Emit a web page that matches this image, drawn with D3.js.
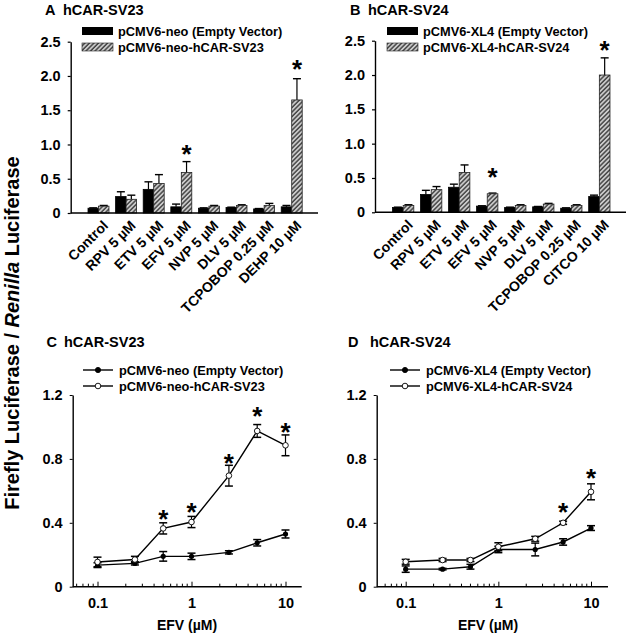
<!DOCTYPE html>
<html><head><meta charset="utf-8">
<script src="https://cdn.jsdelivr.net/npm/d3@7"></script>
<style>
body{margin:0;background:#fff}
svg{display:block}
text{font-family:"Liberation Sans",Arial,sans-serif;font-weight:bold;fill:#000}
</style>
</head><body>
<svg id="chart" width="629" height="634"></svg>
<script>
// ---------- DATA ----------
const categoriesA = ["Control","RPV 5 µM","ETV 5 µM","EFV 5 µM","NVP 5 µM","DLV 5 µM","TCPOBOP 0.25 µM","DEHP 10 µM"];
const emptyA    = [0.07, 0.24, 0.345, 0.09, 0.07, 0.08, 0.06, 0.09];
const emptyErrA = [0.005,0.07, 0.11, 0.04, 0.005,0.005,0.005,0.02];
const carA      = [0.10, 0.20, 0.43, 0.59, 0.10, 0.11, 0.11, 1.65];
const carErrA   = [0.01, 0.06, 0.13, 0.16, 0.01, 0.01, 0.03, 0.31];
const starsA    = [{cat:"EFV 5 µM", level:0.95},{cat:"DEHP 10 µM", level:2.19}];

const categoriesB = ["Control","RPV 5 µM","ETV 5 µM","EFV 5 µM","NVP 5 µM","DLV 5 µM","TCPOBOP 0.25 µM","CITCO 10 µM"];
const emptyB    = [0.07, 0.26, 0.365,0.09, 0.07, 0.08, 0.06, 0.23];
const emptyErrB = [0.005,0.06, 0.045,0.005,0.005,0.005,0.005,0.02];
const carB      = [0.10, 0.33, 0.58, 0.27, 0.10, 0.12, 0.10, 2.00];
const carErrB   = [0.01, 0.045,0.11, 0.01, 0.01, 0.01, 0.01, 0.25];
const starsB    = [{cat:"EFV 5 µM", level:0.594},{cat:"CITCO 10 µM", level:2.45}];

const barTicks = [0, 0.5, 1.0, 1.5, 2.0, 2.5];

const doses = [0.1, 0.25, 0.5, 1, 2.5, 5, 10];
const emptyC    = [0.135,0.146,0.19, 0.19, 0.215,0.275,0.33];
const emptyErrC = [0.015,0.01, 0.03, 0.02, 0.01, 0.02, 0.025];
const carC      = [0.155,0.17, 0.365,0.405,0.695,0.975,0.885];
const carErrC   = [0.03, 0.02, 0.035,0.035,0.065,0.04, 0.065];
const starsC    = [{dose:0.5,level:0.46},{dose:1,level:0.505},{dose:2.5,level:0.81},{dose:5,level:1.104},{dose:10,level:1.006}];

const emptyD    = [0.11, 0.11, 0.125,0.233,0.233,0.28, 0.367];
const emptyErrD = [0.02, 0.005,0.015,0.02, 0.04, 0.02, 0.015];
const carD      = [0.156,0.167,0.167,0.25, 0.30, 0.40, 0.594];
const carErrD   = [0.015,0.01, 0.01, 0.025,0.015,0.01, 0.05];
const starsD    = [{dose:5,level:0.504},{dose:10,level:0.72}];

const lineYTicks = [0, 0.4, 0.8, 1.2];
const lineXTicks = [0.1, 1, 10];
const minorXTicks = [0.06,0.07,0.08,0.09,0.2,0.3,0.4,0.5,0.6,0.7,0.8,0.9,2,3,4,5,6,7,8,9];

// ---------- DRAW ----------
const FONT = "'Liberation Sans',Arial,sans-serif";
const svg = d3.select("#chart");
const defs = svg.append("defs");
const pat = defs.append("pattern").attr("id","hatch").attr("patternUnits","userSpaceOnUse")
  .attr("width",3.2).attr("height",3.2).attr("patternTransform","rotate(45)");
pat.append("rect").attr("width",3.2).attr("height",3.2).attr("fill","#cfcfcf");
pat.append("line").attr("x1",0.9).attr("y1",0).attr("x2",0.9).attr("y2",3.2).attr("stroke","#444").attr("stroke-width",1.5);

const fmt = v => v === 0 ? "0" : d3.format(".1f")(v);

function title(x1, x2, y, letter, name){
  svg.append("text").attr("x",x1).attr("y",y).attr("font-size",14.5).text(letter);
  svg.append("text").attr("x",x2).attr("y",y).attr("font-size",14.5).text(name);
}
function star(x, y){
  svg.append("text").attr("x",x).attr("y",y + 0.57*26).attr("text-anchor","middle")
    .attr("font-size",26).text("*");
}
function styleAxisText(sel, fs){
  sel.selectAll("text").attr("font-size",fs).attr("font-family",FONT).attr("font-weight","bold");
}

function drawBars(c){
  const y = d3.scaleLinear().domain([0,2.5]).range([c.y0, c.yTop]);
  const x = d3.scaleBand().domain(c.cats).range([c.x0+3.5, c.x1-2]).paddingInner(0.24).paddingOuter(0.5);
  const g = svg.append("g");
  const bw = x.bandwidth()/2;
  const rows = c.cats.map((k,i)=>({k, e:c.empty[i], ee:c.emptyErr[i], h:c.car[i], he:c.carErr[i]}));
  function err(xc, v, e){
    const yt = y(v+e);
    g.append("line").attr("x1",xc).attr("x2",xc).attr("y1",y(v)).attr("y2",yt).attr("stroke","#000").attr("stroke-width",1.2);
    g.append("line").attr("x1",xc-4).attr("x2",xc+4).attr("y1",yt).attr("y2",yt).attr("stroke","#000").attr("stroke-width",1.4);
  }
  rows.forEach(r=>{
    err(x(r.k)+bw/2, r.e, r.ee);
    err(x(r.k)+bw*1.5, r.h, r.he);
  });
  g.selectAll(".be").data(rows).join("rect")
    .attr("x",d=>x(d.k)).attr("width",bw).attr("y",d=>y(d.e)).attr("height",d=>y(0)-y(d.e))
    .attr("fill","#000").attr("stroke","#000").attr("stroke-width",0.8);
  g.selectAll(".bh").data(rows).join("rect")
    .attr("x",d=>x(d.k)+bw).attr("width",bw).attr("y",d=>y(d.h)).attr("height",d=>y(0)-y(d.h))
    .attr("fill","url(#hatch)").attr("stroke","#222").attr("stroke-width",0.8);
  const ya = g.append("g").attr("transform",`translate(${c.x0},0)`)
    .call(d3.axisLeft(y).tickValues(barTicks).tickFormat(fmt).tickSize(3).tickPadding(7).tickSizeOuter(0));
  ya.select(".domain").attr("stroke-width",1.4);
  styleAxisText(ya, 14.5);
  ya.selectAll("line").attr("stroke-width",1.2);
  g.append("line").attr("x1",c.x0).attr("x2",c.x1).attr("y1",y(0)).attr("y2",y(0)).attr("stroke","#000").attr("stroke-width",1.4);
  g.selectAll(".cl").data(c.cats).join("text")
    .attr("transform",d=>`translate(${x(d)+x.bandwidth()/2+7},${y(0)+10}) rotate(-45)`)
    .attr("text-anchor","end").attr("dy","0.35em").attr("font-size",14).text(d=>d);
  c.stars.forEach(s=>star(x(s.cat)+bw*1.5, y(s.level)));
  const lg = svg.append("g");
  lg.append("rect").attr("x",c.lx).attr("y",27).attr("width",31).attr("height",8).attr("fill","#000");
  lg.append("rect").attr("x",c.lx).attr("y",43).attr("width",31).attr("height",8).attr("fill","url(#hatch)").attr("stroke","#222").attr("stroke-width",0.6);
  lg.append("text").attr("x",c.lx+36).attr("y",35.8).attr("font-size",12.8).text(c.leg[0]);
  lg.append("text").attr("x",c.lx+36).attr("y",51.8).attr("font-size",12.8).text(c.leg[1]);
}

function drawLines(c){
  const y = d3.scaleLinear().domain([0,1.2]).range([c.y0, c.yTop]);
  const x = d3.scaleLog().domain([0.1,10]).range([c.p01, c.p10]);
  const g = svg.append("g");
  const ya = g.append("g").attr("transform",`translate(${c.x0},0)`)
    .call(d3.axisLeft(y).tickValues(lineYTicks).tickFormat(fmt).tickSize(3).tickPadding(7).tickSizeOuter(0));
  ya.select(".domain").attr("stroke-width",1.4);
  styleAxisText(ya, 14.5);
  const xa = g.append("g").attr("transform",`translate(0,${c.y0})`)
    .call(d3.axisBottom(x).tickValues(lineXTicks).tickFormat(d3.format("")).tickSize(-5).tickPadding(11));
  xa.select(".domain").remove();
  styleAxisText(xa, 14.5);
  g.selectAll(".mt").data(minorXTicks).join("line")
    .attr("x1",d=>x(d)).attr("x2",d=>x(d)).attr("y1",c.y0).attr("y2",c.y0-3).attr("stroke","#000").attr("stroke-width",1);
  g.append("line").attr("x1",c.x0).attr("x2",c.x1).attr("y1",c.y0).attr("y2",c.y0).attr("stroke","#000").attr("stroke-width",1.4);
  g.append("text").attr("x",c.xl).attr("y",c.y0+43.5).attr("text-anchor","middle").attr("font-size",14).text("EFV (µM)");

  const line = d3.line().x(d=>x(d.d)).y(d=>y(d.v));
  const se = doses.map((d,i)=>({d, v:c.empty[i], e:c.emptyErr[i]}));
  const sc = doses.map((d,i)=>({d, v:c.car[i], e:c.carErr[i]}));
  [se, sc].forEach(s=>g.append("path").datum(s).attr("d",line).attr("fill","none").attr("stroke","#000").attr("stroke-width",1.4));
  [se, sc].forEach(s=>s.forEach(p=>{
    const xc = x(p.d), t = y(p.v+p.e), b = y(p.v-p.e);
    g.append("line").attr("x1",xc).attr("x2",xc).attr("y1",t).attr("y2",b).attr("stroke","#000").attr("stroke-width",1.2);
    [t,b].forEach(yy=>g.append("line").attr("x1",xc-4).attr("x2",xc+4).attr("y1",yy).attr("y2",yy).attr("stroke","#000").attr("stroke-width",1.5));
  }));
  g.selectAll(".me").data(se).join("circle").attr("cx",p=>x(p.d)).attr("cy",p=>y(p.v)).attr("r",2.6).attr("fill","#000");
  g.selectAll(".mc").data(sc).join("circle").attr("cx",p=>x(p.d)).attr("cy",p=>y(p.v)).attr("r",2.8).attr("fill","#fff").attr("stroke","#000").attr("stroke-width",0.9);
  c.stars.forEach(s=>star(x(s.dose), y(s.level)));
  const lg = svg.append("g");
  [[370,true],[386,false]].forEach(([yy,filled],i)=>{
    lg.append("line").attr("x1",c.lx).attr("x2",c.lx+30).attr("y1",yy).attr("y2",yy).attr("stroke","#000").attr("stroke-width",1.4);
    lg.append("circle").attr("cx",c.lx+15).attr("cy",yy).attr("r",filled?2.6:2.8)
      .attr("fill",filled?"#000":"#fff").attr("stroke","#000").attr("stroke-width",0.9);
    lg.append("text").attr("x",c.lx+36).attr("y",yy+4.5).attr("font-size",12.8).text(c.leg[i]);
  });
}

title(45, 63, 15, "A", "hCAR-SV23");
title(350, 368, 15, "B", "hCAR-SV24");
title(46.5, 64, 347, "C", "hCAR-SV23");
title(348, 370, 347, "D", "hCAR-SV24");

drawBars({x0:70.7, x1:318, y0:213, yTop:41.7, cats:categoriesA, empty:emptyA, emptyErr:emptyErrA,
  car:carA, carErr:carErrA, stars:starsA, lx:82, leg:["pCMV6-neo (Empty Vector)","pCMV6-neo-hCAR-SV23"]});
drawBars({x0:375, x1:626, y0:212.3, yTop:40.7, cats:categoriesB, empty:emptyB, emptyErr:emptyErrB,
  car:carB, carErr:carErrB, stars:starsB, lx:387, leg:["pCMV6-XL4 (Empty Vector)","pCMV6-XL4-hCAR-SV24"]});
drawLines({x0:72.7, x1:301.7, y0:586.7, yTop:395, p01:97.5, p10:285.5, xl:187, empty:emptyC, emptyErr:emptyErrC,
  car:carC, carErr:carErrC, stars:starsC, lx:83, leg:["pCMV6-neo (Empty Vector)","pCMV6-neo-hCAR-SV23"]});
drawLines({x0:376.7, x1:608, y0:586.7, yTop:395, p01:405.7, p10:591, xl:488, empty:emptyD, emptyErr:emptyErrD,
  car:carD, carErr:carErrD, stars:starsD, lx:390, leg:["pCMV6-XL4 (Empty Vector)","pCMV6-XL4-hCAR-SV24"]});

const yl = svg.append("text").attr("transform","translate(19,333) rotate(-90)").attr("text-anchor","middle").attr("font-size",20);
yl.append("tspan").text("Firefly Luciferase / ");
yl.append("tspan").attr("font-style","italic").text("Renilla");
yl.append("tspan").text(" Luciferase");
</script>
</body></html>
